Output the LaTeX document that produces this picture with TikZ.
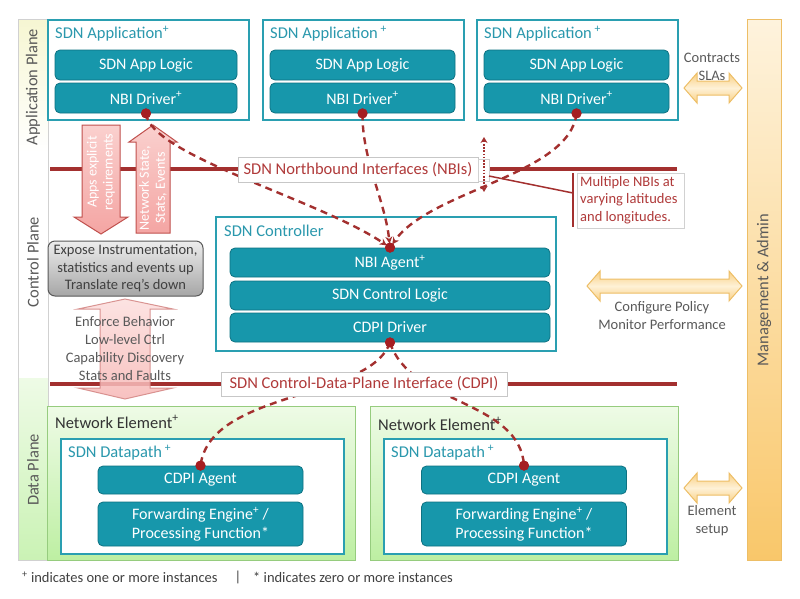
\documentclass[tikz,border=0pt]{standalone}
\usepackage{fontspec}
\setmainfont{Carlito}
\usetikzlibrary{arrows.meta}
\definecolor{tealfill}{HTML}{1797AB}
\definecolor{tealdark}{HTML}{0E7282}
\definecolor{tealline}{HTML}{2A9FB1}
\definecolor{tealtext}{HTML}{2A98AD}
\definecolor{redline}{HTML}{A3302F}
\definecolor{redtext}{HTML}{B03A3A}
\definecolor{dotred}{HTML}{A51E22}
\definecolor{pinkL}{HTML}{FAD0CE}
\definecolor{pinkD}{HTML}{F4A5A3}
\definecolor{pinkdraw}{HTML}{C0504D}
\definecolor{orangeL}{HTML}{FEF1D6}
\definecolor{orangeD}{HTML}{F9CF82}
\definecolor{orangedraw}{HTML}{EDBE66}
\definecolor{mgmtL}{HTML}{FEF3DD}
\definecolor{mgmtD}{HTML}{F9C76A}
\definecolor{greenL}{HTML}{EEFBE6}
\definecolor{greenD}{HTML}{BDEFA2}
\definecolor{greendraw}{HTML}{96CC7E}
\definecolor{graytext}{HTML}{595959}
\definecolor{appyellow}{HTML}{F6F6D2}
\definecolor{grayL}{HTML}{EDEDED}
\definecolor{grayD}{HTML}{A6A6A6}
\newcommand\bigfont{\fontsize{16.5}{19}\selectfont}
\newcommand\barfont{\fontsize{16}{20}\selectfont}
\newcommand\smallfont{\fontsize{14.5}{17.5}\selectfont}
\newcommand\orangedbl[3]{%
  \draw[orangearrow] (#1,#3) -- (#1+13,#3-15) -- (#1+13,#3-7) -- (#2-13,#3-7) -- (#2-13,#3-15) -- (#2,#3) -- (#2-13,#3+15) -- (#2-13,#3+7) -- (#1+13,#3+7) -- (#1+13,#3+15) -- cycle;}
\tikzset{
  appbox/.style={draw=tealline, line width=1.8pt, fill=white, anchor=north west, inner sep=0},
  nebox/.style={draw=greendraw, line width=1.2pt, top color=greenL, bottom color=greenD, anchor=north west, inner sep=0},
  tealbar/.style={draw=tealdark, fill=tealfill, rounded corners=5pt, line width=0.8pt, text=white, font=\barfont, inner sep=0, align=center},
  boxtitle/.style={text=tealtext, font=\bigfont, anchor=west, inner sep=0},
  netitle/.style={text=black!80, font=\bigfont, anchor=west, inner sep=0},
  reddot/.style={circle, fill=dotred, inner sep=0, minimum size=10pt},
  dashline/.style={draw=redline, line width=2.4pt, dash pattern=on 7pt off 5pt},
  ifline/.style={draw=redline, line width=4pt},
  iflabel/.style={draw=black!22, fill=white, line width=0.8pt, text=redtext, font=\bigfont, inner sep=0},
  pinkarrow/.style={draw=pinkdraw, line width=1pt, top color=pinkL, bottom color=pinkD},
  orangearrow/.style={draw=orangedraw, line width=1pt, top color=orangeD, bottom color=orangeD, middle color=orangeL},
  graylabel/.style={text=graytext, font=\smallfont, align=center, inner sep=0},
}
\begin{document}
\begin{tikzpicture}[x=1pt,y=-1pt]
\useasboundingbox (0,0) rectangle (800,598);

% plane strip
\fill[top color=appyellow, bottom color=white] (18,19) rectangle (48,152);
\fill[white] (18,152) rectangle (48,378);
\fill[top color=greenL, bottom color=greenD!80] (18,378) rectangle (48,560);
\draw[black!18, line width=0.8pt] (18,19) rectangle (48,560);
\node[rotate=90, text=graytext, font=\bigfont] (lapp) at (33,87) {Application Plane};
\node[rotate=90, text=graytext, font=\bigfont] (lctl) at (33,262) {Control Plane};
\node[rotate=90, text=graytext, font=\bigfont] (ldat) at (33,470) {Data Plane};

% applications
\node[appbox, minimum width=201pt, minimum height=100pt] (app1) at (47,19) {};
\node[appbox, minimum width=201pt, minimum height=100pt] (app2) at (262,19) {};
\node[appbox, minimum width=201pt, minimum height=100pt] (app3) at (476,19) {};
\node[boxtitle] (t1) at (55,34) {SDN Application\textsuperscript{+}};
\node[boxtitle] (t2) at (270,34) {SDN Application\,\textsuperscript{+}};
\node[boxtitle] (t3) at (484,34) {SDN Application\,\textsuperscript{+}};
\node[tealbar, minimum width=182pt, minimum height=30pt] (logic1) at (146,65) {SDN App Logic};
\node[tealbar, minimum width=182pt, minimum height=30pt] (drv1) at (146,98) {NBI Driver\textsuperscript{+}};
\node[tealbar, minimum width=185pt, minimum height=30pt] (logic2) at (362.5,65) {SDN App Logic};
\node[tealbar, minimum width=185pt, minimum height=30pt] (drv2) at (362.5,98) {NBI Driver\textsuperscript{+}};
\node[tealbar, minimum width=185pt, minimum height=30pt] (logic3) at (576.5,65) {SDN App Logic};
\node[tealbar, minimum width=185pt, minimum height=30pt] (drv3) at (576.5,98) {NBI Driver\textsuperscript{+}};

% controller
\node[appbox, minimum width=340pt, minimum height=134pt] (ctrl) at (215,216) {};
\node[boxtitle] (tc) at (224,231) {SDN Controller};
\node[tealbar, minimum width=320pt, minimum height=29pt] (nbiag) at (390,262.5) {NBI Agent\textsuperscript{+}};
\node[tealbar, minimum width=320pt, minimum height=29pt] (ctllogic) at (390,295.5) {SDN Control Logic};
\node[tealbar, minimum width=320pt, minimum height=29pt] (cdpidrv) at (390,327.5) {CDPI Driver};

% network elements
\node[nebox, minimum width=308pt, minimum height=154pt] (ne1) at (47,406) {};
\node[nebox, minimum width=308pt, minimum height=154pt] (ne2) at (370,406) {};
\node[netitle] (tn1) at (55,422) {Network Element\textsuperscript{+}};
\node[netitle] (tn2) at (378,424) {Network Element\textsuperscript{+}};
\node[appbox, minimum width=283pt, minimum height=115pt] (dp1) at (60,438) {};
\node[appbox, minimum width=283pt, minimum height=115pt] (dp2) at (383,438) {};
\node[boxtitle] (td1) at (68,453) {SDN Datapath\,\textsuperscript{+}};
\node[boxtitle] (td2) at (391,453) {SDN Datapath\,\textsuperscript{+}};
\node[tealbar, minimum width=205pt, minimum height=28pt] (cdpiag1) at (200.5,480) {CDPI Agent};
\node[tealbar, minimum width=205pt, minimum height=44pt] (fwd1) at (200.5,524) {Forwarding Engine\textsuperscript{+} /\\[-1pt]Processing Function*};
\node[tealbar, minimum width=205pt, minimum height=28pt] (cdpiag2) at (524,480) {CDPI Agent};
\node[tealbar, minimum width=205pt, minimum height=44pt] (fwd2) at (524,524) {Forwarding Engine\textsuperscript{+} /\\[-1pt]Processing Function*};

% interface lines
\coordinate (nbiL) at (50,169);
\coordinate (nbiR) at (677,169);
\coordinate (cdpiL) at (50,384);
\coordinate (cdpiR) at (677,384);
\draw[ifline] (nbiL) -- (nbiR);
\draw[ifline] (cdpiL) -- (cdpiR);

% pink arrows
\draw[pinkarrow] (82,125) -- (120,125) -- (120,217) -- (128,217) -- (101,234) -- (74,217) -- (82,217) -- cycle;
\node[rotate=90, text=white, font=\fontsize{14}{16}\selectfont, align=center] (areq) at (101,172) {Apps explicit\\requirements};
\draw[pinkarrow] (136,233) -- (170,233) -- (170,142) -- (177,142) -- (153,125) -- (129,142) -- (136,142) -- cycle;
\node[rotate=90, text=white, font=\fontsize{14}{16}\selectfont, align=center] (anet) at (153,188) {Network State,\\Stats, Events};
\draw[pinkarrow, draw=pinkdraw!70, top color=pinkL!70, bottom color=pinkD!80, opacity=0.85] (125,299) -- (173,309) -- (150,309) -- (150,388) -- (173,388) -- (125,399) -- (78,388) -- (100,388) -- (100,309) -- (78,309) -- cycle;
\node[graylabel, font=\fontsize{14.5}{18}\selectfont] (enf) at (125,349) {Enforce Behavior\\Low-level Ctrl\\Capability Discovery\\Stats and Faults};

% gray box
\node[draw=black!65, line width=1pt, rounded corners=7pt, top color=grayL, bottom color=grayD, minimum width=155pt, minimum height=55pt, inner sep=0, text=black!75, font=\smallfont, align=center] (expose) at (125.5,268.5) {Expose Instrumentation,\\statistics and events up\\Translate req’s down};

% dots
\node[reddot] (d1) at (drv1.south) {};
\node[reddot] (d2) at (drv2.south) {};
\node[reddot] (d3) at (drv3.south) {};
\node[reddot] (dn) at (nbiag.north) {};
\node[reddot] (dc) at (cdpidrv.south) {};
\node[reddot] (da1) at (cdpiag1.north) {};
\node[reddot] (da2) at (cdpiag2.north) {};

% dashed connectors
\draw[dashline, -{Stealth[length=7pt,width=7pt]}, shorten >=4pt] (d1.center) .. controls (150,155) and (320,200) .. (dn.center);
\draw[dashline, -{Stealth[length=7pt,width=7pt]}, shorten >=4pt] (d2.center) .. controls (362,160) and (385,200) .. (dn.center);
\draw[dashline, -{Stealth[length=7pt,width=7pt]}, shorten >=4pt] (d3.center) .. controls (570,175) and (430,190) .. (dn.center);
\draw[dashline] (dc.center) .. controls (370,400) and (210,390) .. (da1.center);
\draw[dashline] (dc.center) .. controls (410,405) and (520,400) .. (da2.center);
\node[reddot] at (d1) {};
\node[reddot] at (d2) {};
\node[reddot] at (d3) {};
\node[reddot] at (dn) {};
\node[reddot] at (dc) {};
\node[reddot] at (da1) {};
\node[reddot] at (da2) {};

% interface labels
\node[iflabel, minimum width=240pt, minimum height=25pt] (nbilbl) at (358,169.5) {SDN Northbound Interfaces (NBIs)};
\node[iflabel, minimum width=286pt, minimum height=24pt] (cdpilbl) at (364,384) {SDN Control-Data-Plane Interface (CDPI)};

% multiple NBIs marker and callout
\node[draw=black!18, fill=white, minimum width=11pt, minimum height=22pt, inner sep=0] (mbox) at (484,170) {};
\coordinate (mtop) at (484,137);
\coordinate (mbot) at (484,192);
\draw[draw=redline, line width=1.8pt, dash pattern=on 1.6pt off 1.6pt, {Stealth[length=6pt,width=7pt]}-{Stealth[length=6pt,width=7pt]}] (mtop) -- (mbot);
\node[draw=black!18, fill=white, line width=0.8pt, minimum width=107pt, minimum height=55pt, anchor=north west, inner sep=0] (callout) at (577,173) {};
\node[text=redtext, font=\smallfont, align=left, anchor=north west, inner sep=0] (callouttxt) at (580,176) {Multiple NBIs at\\varying latitudes\\and longitudes.};
\coordinate (cl1) at (489,176);
\coordinate (cl2) at (573,193);
\coordinate (cb1) at (573,173);
\coordinate (cb2) at (573,227);
\draw[draw=redline, line width=1.5pt] (cl1) -- (cl2);
\draw[draw=redline, line width=2pt] (cb1) -- (cb2);

% management
\node[draw=orangedraw, line width=1pt, top color=mgmtL, bottom color=mgmtD, minimum width=34pt, minimum height=541pt, anchor=north west, inner sep=0] (mgmt) at (747,19) {};
\node[rotate=90, text=graytext, font=\bigfont] (mgmttxt) at (764,290) {Management \& Admin};
\orangedbl{684}{742}{88}
\orangedbl{587}{742}{286}
\orangedbl{684}{742}{488}
\node[graylabel, font=\fontsize{14.5}{18}\selectfont] (slas) at (712,67) {Contracts\\SLAs};
\node[graylabel, font=\fontsize{14.5}{18}\selectfont] (pol) at (662,316) {Configure Policy\\Monitor Performance};
\node[graylabel, font=\fontsize{14.5}{18}\selectfont] (elem) at (712,521) {Element\\setup};

% legend
\node[text=black!75, font=\smallfont, anchor=west, inner sep=0] (leg1) at (22,577) {\textsuperscript{+} indicates one or more instances};
\node[text=black!75, font=\smallfont, inner sep=0] (legbar) at (238,577) {|};
\node[text=black!75, font=\smallfont, anchor=west, inner sep=0] (leg2) at (253,577) {* indicates zero or more instances};
\end{tikzpicture}
\end{document}
